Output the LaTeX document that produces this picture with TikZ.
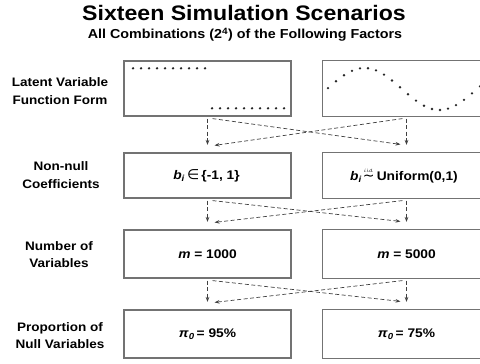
\documentclass[tikz,border=0pt]{standalone}
\usepackage{amsmath}
\usepackage{fontspec}
\setmainfont{Liberation Sans}[FakeStretch=1.1]
\newfontfamily\symf{DejaVu Sans}
\usetikzlibrary{arrows.meta}
\begin{document}
\begin{tikzpicture}[x=1pt,y=-1pt,
  boxline/.style={draw=black!55, line width=1.2pt},
  factorbox/.style={boxline, rectangle, minimum width=167pt, inner sep=0pt, font=\fontsize{12.5}{15}\selectfont\bfseries},
  openbox/.style={factorbox, draw=none},
  rowlabel/.style={align=center, font=\fontsize{12.3}{17.5}\selectfont\bfseries, inner sep=0pt},
  flow/.style={draw=black!75, line width=0.7pt, dash pattern=on 4pt off 2.5pt, -{Stealth[length=5pt,width=3.6pt]}},
  dotmark/.style={fill=black!85, draw=none}]
\useasboundingbox (0,0) rectangle (480,364);
\clip (0,0) rectangle (480,364);
\coordinate (edge) at (482,0);
% title
\node[anchor=base, inner sep=0pt, font=\fontsize{21}{24}\selectfont\bfseries] (title) at (244,20) {Sixteen Simulation Scenarios};
\node[anchor=base, inner sep=0pt, font=\fontsize{13}{15}\selectfont\bfseries] (subtitle) at (245,38.5) {All Combinations (2\textsuperscript{4}) of the Following Factors};
% row labels
\node[rowlabel] (lab1) at (60,91) {Latent Variable\\Function Form};
\node[rowlabel] (lab2) at (61,175) {Non-null\\Coefficients};
\node[rowlabel] (lab3) at (59,254.5) {Number of\\Variables};
\node[rowlabel] (lab4) at (60,335.5) {Proportion of\\Null Variables};
% left boxes
\node[factorbox, minimum height=55pt] (L1) at (207.5,88.5) {};
\node[factorbox, minimum height=45pt] (L2) at (207.5,175.5) {\textit{b}\textsubscript{\textit{i}}\,{\mdseries\fontsize{14}{15}\selectfont\symf ∈}\,\{-1, 1\}\kern2pt};
\node[factorbox, minimum height=48pt] (L3) at (207.5,254) {\textit{m} = 1000};
\node[factorbox, minimum height=48pt] (L4) at (207.5,334) {\textit{π}\textsubscript{\textit{0}}\,= 95\%};
% right boxes (cut by the picture's right edge)
\node[openbox, minimum height=55pt] (R1) at (406.5,88.5) {};
\node[openbox, minimum height=45pt] (R2) at (406.5,175.5) {\textit{b}\textsubscript{\textit{i}}\kern1pt$\overset{\text{\fontsize{4.5}{5}\selectfont\mdseries\itshape i.i.d.}}{\text{\mdseries\fontsize{14}{15}\selectfont\symf ∼}}$\,Uniform(0,1)\kern5pt};
\node[openbox, minimum height=48pt] (R3) at (406.5,254) {\textit{m} = 5000};
\node[openbox, minimum height=48pt] (R4) at (406.5,334) {\textit{π}\textsubscript{\textit{0}}\,= 75\%};
\foreach \r in {R1,R2,R3,R4} {
  \draw[boxline] (\r.north west -| edge) -- (\r.north west) -- (\r.south west) -- (\r.south west -| edge);
}
% step function dots
\foreach \k in {0,...,9} {
  \fill[dotmark] (133+8*\k,68.3) circle (1.3pt);
  \fill[dotmark] (212+8*\k,108.3) circle (1.3pt);
}
% sine dots
\foreach \k in {0,...,19} {
  \pgfmathsetmacro{\xx}{328+8*\k}
  \pgfmathsetmacro{\yy}{89-21*sin(2.4*(\xx-327))}
  \fill[dotmark] (\xx,\yy) circle (1.3pt);
}
% connectors
\foreach \a/\b in {L1/L2,L2/L3,L3/L4} {
  \draw[flow] ([yshift=-2pt]\a.south) -- ([yshift=7.5pt]\b.north);
}
\foreach \a/\b in {R1/R2,R2/R3,R3/R4} {
  \draw[flow] ([yshift=-2pt]\a.south) -- ([yshift=7.5pt]\b.north);
}
\foreach \a/\b in {L1/R2,L2/R3,L3/R4} {
  \draw[flow] ([xshift=5pt,yshift=-2pt]\a.south) -- ([xshift=-6pt,yshift=8pt]\b.north);
}
\foreach \a/\b in {R1/L2,R2/L3,R3/L4} {
  \draw[flow] ([xshift=-4pt,yshift=-2pt]\a.south) -- ([xshift=7pt,yshift=7pt]\b.north);
}
\end{tikzpicture}
\end{document}
